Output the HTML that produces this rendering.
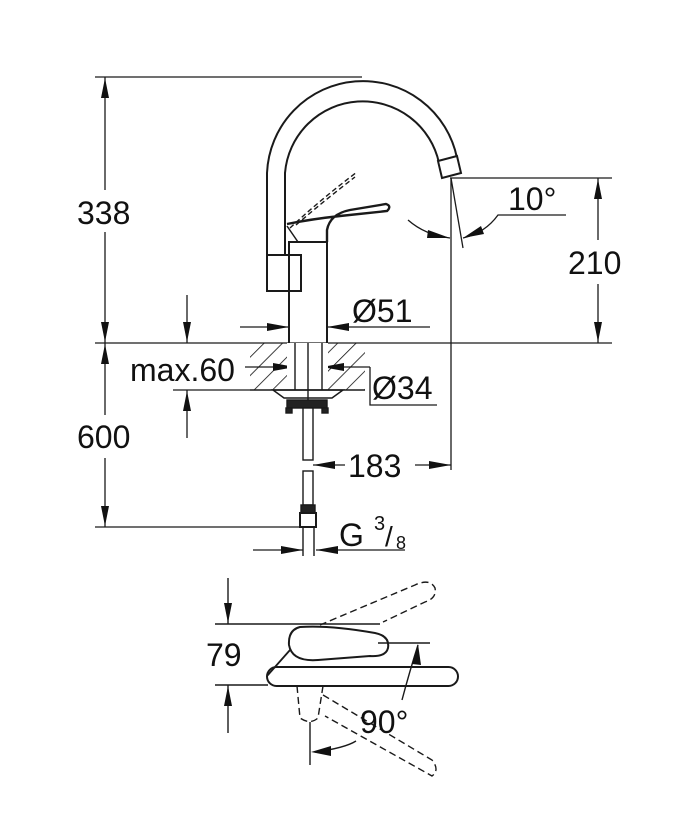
<!DOCTYPE html>
<html><head><meta charset="utf-8"><style>
html,body{margin:0;padding:0;background:#fff}
svg{display:block}
text{font-family:"Liberation Sans",Arial,sans-serif;fill:#111}
</style></head><body>
<svg width="700" height="840" viewBox="0 0 700 840" xmlns="http://www.w3.org/2000/svg">
<defs>
<pattern id="h" width="13" height="13" patternUnits="userSpaceOnUse" patternTransform="rotate(45)">
<line x1="0" y1="0" x2="0" y2="13" stroke="#111" stroke-width="1.6"/>
</pattern>
</defs>
<g stroke="#1a1a1a" fill="none" stroke-width="1.3">
<line x1="95" y1="77" x2="362" y2="77"/>
<line x1="95" y1="343" x2="612" y2="343"/>
<line x1="95" y1="527" x2="305" y2="527"/>
<line x1="105" y1="77" x2="105" y2="190"/>
<line x1="105" y1="232" x2="105" y2="343"/>
<line x1="105" y1="343" x2="105" y2="415"/>
<line x1="105" y1="458" x2="105" y2="527"/>
<line x1="187" y1="295" x2="187" y2="343"/>
<line x1="187" y1="390" x2="187" y2="438"/>
<line x1="173" y1="390" x2="250" y2="390"/>
<line x1="450" y1="178" x2="612" y2="178"/>
<line x1="598" y1="178" x2="598" y2="240"/>
<line x1="598" y1="284" x2="598" y2="343"/>
<line x1="451" y1="178" x2="451" y2="470"/>
<line x1="451" y1="178" x2="463" y2="248"/>
<path d="M408 220 Q425 235 450 238"/>
<path d="M463 238 Q485 233 498 215 L566 215"/>
<line x1="240" y1="327" x2="289" y2="327"/>
<line x1="327" y1="327" x2="430" y2="327"/>
<line x1="245" y1="367" x2="295" y2="367"/>
<line x1="322" y1="367" x2="370" y2="367"/>
<path d="M370 367 L370 405 L437 405"/>
<line x1="313" y1="465" x2="345" y2="465"/>
<line x1="415" y1="465" x2="451" y2="465"/>
<line x1="253" y1="550" x2="303" y2="550"/>
<line x1="316" y1="550" x2="405" y2="550"/>
</g>
<g fill="#111">
<path d="M105 78 L101 98 L109 98Z"/>
<path d="M105 342 L101 322 L109 322Z"/>
<path d="M105 344 L101 364 L109 364Z"/>
<path d="M105 526 L101 506 L109 506Z"/>
<path d="M187 342 L183 322 L191 322Z"/>
<path d="M187 391 L183 411 L191 411Z"/>
<path d="M598 179 L594 199 L602 199Z"/>
<path d="M598 342 L594 322 L602 322Z"/>
<path d="M289 327 L267 323 L267 331Z"/>
<path d="M327 327 L349 323 L349 331Z"/>
<path d="M295 367 L273 363 L273 371Z"/>
<path d="M322 367 L344 363 L344 371Z"/>
<path d="M313 465 L335 461 L335 469Z"/>
<path d="M451 465 L429 461 L429 469Z"/>
<path d="M303 550 L281 546 L281 554Z"/>
<path d="M316 550 L338 546 L338 554Z"/>
<path d="M450 238 L428 230 L427 238Z"/>
<path d="M463 238 L481 226 L484 234Z"/>
</g>
<rect x="250" y="343" width="115" height="47" fill="url(#h)"/>
<rect x="287" y="343" width="41" height="47" fill="#fff"/>
<g stroke="#1a1a1a" fill="none" stroke-width="1.4">
<line x1="250" y1="390" x2="365" y2="390"/>
<line x1="295" y1="343" x2="295" y2="390"/>
<line x1="322" y1="343" x2="322" y2="390"/>
<line x1="308" y1="343" x2="308" y2="400"/>
<path d="M267 255 L267 173 A96 96 0 0 1 457 158" stroke-width="2"/>
<path d="M285 255 L285 173 A78 78 0 0 1 439 163" stroke-width="2"/>
<path d="M438 161 L457 156 L461 173 L442 178 Z" fill="#fff" stroke-width="2"/>
<rect x="267" y="255" width="34" height="36" stroke-width="2" fill="#fff"/>
<path d="M289 343 L289 242 L327 242 L327 343" stroke-width="2"/>
<path d="M327 242 L327 230 Q330 214 350 210 L386 204 Q392 206 387 211 L340 216 Q312 219 287 224" stroke-width="2.4"/>
<path d="M287 226 L298 242" stroke-width="1.5"/>
<path d="M290 228 Q320 200 357 172" stroke-dasharray="5 3"/>
<path d="M296 225 Q325 200 355 177" stroke-dasharray="5 3"/>
<path d="M273 390 L343 390 L332 398 L284 398 Z" stroke-width="1.5"/>
<rect x="287" y="400" width="40" height="8" fill="#222"/>
<rect x="286" y="408" width="6" height="5" fill="#222"/>
<rect x="322" y="408" width="6" height="5" fill="#222"/>
<rect x="303" y="408" width="10" height="52" stroke-width="1.4" fill="#fff"/>
<rect x="303" y="471" width="10" height="34" stroke-width="1.4" fill="#fff"/>
<rect x="301" y="505" width="14" height="8" fill="#222"/>
<rect x="300" y="513" width="16" height="14" stroke-width="2"/>
<line x1="303" y1="527" x2="303" y2="556"/>
<line x1="314" y1="527" x2="314" y2="556"/>
<line x1="215" y1="624" x2="380" y2="624"/>
<line x1="215" y1="685" x2="268" y2="685"/>
<line x1="228" y1="578" x2="228" y2="624"/>
<line x1="228" y1="685" x2="228" y2="733"/>
<rect x="267" y="667" width="191" height="19" rx="9.5" stroke-width="2" fill="#fff"/>
<path d="M267 676 L290 650" stroke-width="1.8"/>
<path d="M300 627 Q330 625 375 633 Q390 636 388 648 Q386 657 370 656 L318 660 Q292 662 289 645 Q288 630 300 627Z" stroke-width="2" fill="#fff"/>
<line x1="378" y1="643" x2="430" y2="643"/>
<path d="M320 625 Q360 608 415 585 Q430 578 435 588 Q437 598 425 602 L383 622" stroke-dasharray="7 4"/>
<path d="M297 686 L300 718 Q310 725 318 718 L323 686" stroke-dasharray="7 4"/>
<path d="M323 695 L432 760 Q440 770 432 776 L325 716" stroke-dasharray="7 4"/>
<line x1="310" y1="722" x2="310" y2="765"/>
<path d="M418 645 Q410 670 402 700"/>
<path d="M356 741 Q345 748 315 752"/>
</g>
<g fill="#111">
<path d="M228 623 L224 603 L232 603Z"/>
<path d="M228 686 L224 706 L232 706Z"/>
<path d="M418 644 L412 664 L421 665Z"/>
<path d="M311 752 L331 746 L331 756Z"/>
</g>
<text x="77" y="224" font-size="32">338</text>
<text x="77" y="448" font-size="32">600</text>
<text x="130" y="381" font-size="32">max.60</text>
<text x="568" y="274" font-size="32">210</text>
<text x="508" y="210" font-size="32">10°</text>
<text x="352" y="322" font-size="32">Ø51</text>
<text x="372" y="399" font-size="32">Ø34</text>
<text x="348" y="477" font-size="32">183</text>
<text x="339" y="546" font-size="32">G</text>
<text x="374" y="530" font-size="20">3</text>
<text x="385" y="546" font-size="28">/</text>
<text x="396" y="549" font-size="18">8</text>
<text x="206" y="666" font-size="32">79</text>
<text x="360" y="733" font-size="32">90°</text>
</svg>
</body></html>
